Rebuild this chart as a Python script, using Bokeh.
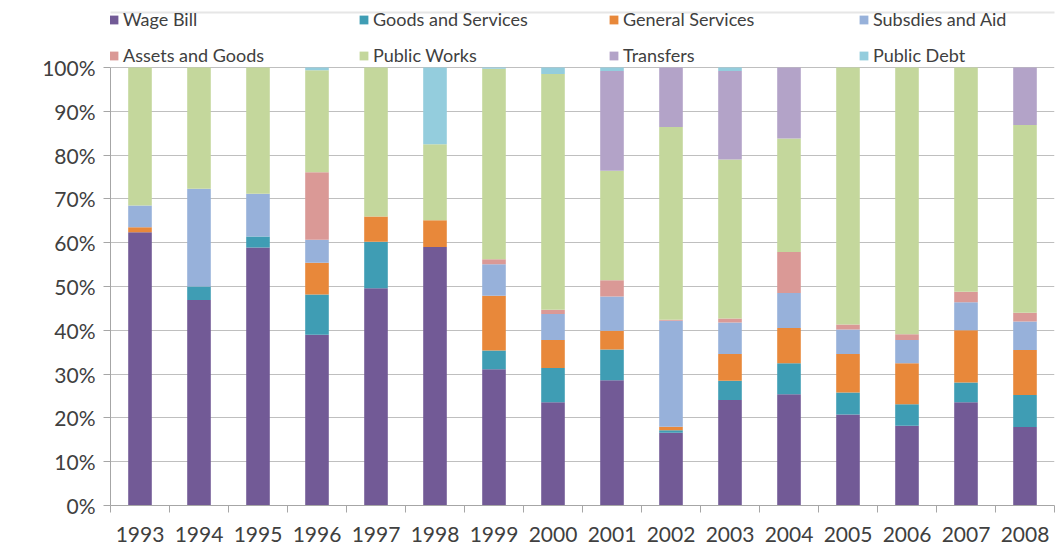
from bokeh.plotting import figure
from bokeh.models import ColumnDataSource, Range1d, FixedTicker, PrintfTickFormatter, Legend, LegendItem, BoxAnnotation
from bokeh.embed import file_html
from bokeh.resources import INLINE

years = ["1993", "1994", "1995", "1996", "1997", "1998", "1999", "2000",
         "2001", "2002", "2003", "2004", "2005", "2006", "2007", "2008"]
wage_bill = [62.4, 46.9, 58.9, 39.0, 49.6, 59.0, 31.1, 23.6, 28.6, 16.6, 24.1, 25.4, 20.8, 18.2, 23.6, 17.9]
goods_services = [0.0, 3.1, 2.5, 9.2, 10.6, 0.0, 4.3, 7.8, 7.0, 0.6, 4.4, 7.1, 5.0, 4.9, 4.5, 7.3]
general_services = [1.1, 0.0, 0.0, 7.2, 5.8, 6.1, 12.5, 6.4, 4.3, 0.8, 6.1, 8.0, 8.8, 9.4, 11.9, 10.3]
subsidies_aid = [5.0, 22.3, 9.8, 5.3, 0.0, 0.0, 7.2, 5.9, 7.8, 24.2, 7.2, 8.0, 5.6, 5.3, 6.4, 6.5]
assets_goods = [0.0, 0.0, 0.0, 15.4, 0.0, 0.0, 1.1, 1.0, 3.7, 0.2, 0.9, 9.4, 1.1, 1.3, 2.4, 2.0]
public_works = [31.5, 27.7, 28.8, 23.3, 34.0, 17.4, 43.5, 53.8, 25.0, 44.0, 36.3, 25.9, 58.7, 60.9, 51.2, 42.9]
transfers = [0.0, 0.0, 0.0, 0.0, 0.0, 0.0, 0.0, 0.0, 22.8, 13.6, 20.2, 16.2, 0.0, 0.0, 0.0, 13.1]
public_debt = [0.0, 0.0, 0.0, 0.6, 0.0, 17.5, 0.3, 1.5, 0.8, 0.0, 0.8, 0.0, 0.0, 0.0, 0.0, 0.0]

series_names = ["Wage Bill", "Goods and Services", "General Services", "Subsdies and Aid",
                "Assets and Goods", "Public Works", "Transfers", "Public Debt"]
series_keys = ["wage", "goods", "general", "subs", "assets", "pw", "transfers", "debt"]
series_colors = ["#725a96", "#3f9db4", "#e8883a", "#97b1da",
                 "#da9996", "#c4d79c", "#b3a3c8", "#94cddd"]
y_ticks = [0, 10, 20, 30, 40, 50, 60, 70, 80, 90, 100]

x_idx = list(range(len(years)))
source = ColumnDataSource(dict(
    x=x_idx, wage=wage_bill, goods=goods_services, general=general_services,
    subs=subsidies_aid, assets=assets_goods, pw=public_works,
    transfers=transfers, debt=public_debt))

FONT = "Lato"
TXT = "#404040"
GRID = "#bfbfbf"

# plot frame runs from the canvas top (legend lives inside it) down to the 0% line
FRAME_H = 505      # pixels from canvas top to the x axis
AXIS_H = 438       # pixels spanned by 0%..100%
y_top = 100 * FRAME_H / AXIS_H

p = figure(width=1056, height=555, output_backend="svg", toolbar_location=None,
           x_range=Range1d(-0.5, len(years) - 0.5), y_range=Range1d(0, y_top),
           min_border_left=110, min_border_right=2, min_border_top=0, min_border_bottom=50)
p.outline_line_color = None
p.background_fill_color = "white"
p.border_fill_color = "white"

renderers = p.vbar_stack(series_keys, x="x", width=0.4, color=series_colors, line_color=None,
                         source=source)

# axes
p.xgrid.visible = False
p.ygrid.grid_line_color = GRID
p.ygrid.grid_line_width = 1
p.ygrid.ticker = FixedTicker(ticks=y_ticks)

yax = p.yaxis[0]
yax.bounds = (0, 100)
yax.ticker = FixedTicker(ticks=y_ticks)
yax.formatter = PrintfTickFormatter(format="%d%%")
yax.axis_line_color = "#a6a6a6"
yax.major_tick_line_color = "#a6a6a6"
yax.major_tick_out = 7
yax.major_tick_in = 0
yax.minor_tick_line_color = None
yax.major_label_standoff = 8
yax.major_label_text_font = FONT
yax.major_label_text_font_size = "21px"
yax.major_label_text_color = TXT

xax = p.xaxis[0]
xax.ticker = FixedTicker(ticks=x_idx, minor_ticks=[i - 0.5 for i in range(len(years) + 1)])
xax.major_label_overrides = {i: y for i, y in enumerate(years)}
xax.axis_line_color = "#a6a6a6"
xax.major_tick_line_color = None
xax.minor_tick_line_color = "#a6a6a6"
xax.minor_tick_out = 7
xax.minor_tick_in = 0
xax.major_label_standoff = 14
xax.major_label_text_font = FONT
xax.major_label_text_font_size = "21px"
xax.major_label_text_color = TXT

# legend (inside the tall frame, above the 100% line)
lg = Legend(items=[LegendItem(label=n, renderers=[r]) for n, r in zip(series_names, renderers)])
lg.orientation = "horizontal"
lg.ncols = 4
lg.location = (-2, 439)
lg.glyph_width = 11
lg.glyph_height = 11
lg.label_height = 11
lg.label_width = 221
lg.label_standoff = 4
lg.spacing = 14
lg.padding = 0
lg.margin = 0
lg.border_line_color = None
lg.background_fill_alpha = 0
lg.label_text_font = FONT
lg.label_text_font_size = "18px"
lg.label_text_color = TXT
p.add_layout(lg, "center")

# dotted chart border (top edge); screen units count upward from the frame bottom
p.add_layout(BoxAnnotation(left=-200, right=2000, top=FRAME_H - 12, bottom=-1000,
                           left_units="screen", right_units="screen",
                           top_units="screen", bottom_units="screen",
                           fill_color=None, fill_alpha=0, line_color="#555555", line_width=2,
                           line_dash="1 1", level="overlay"))

open("out.html", "w").write(file_html(p, INLINE))
